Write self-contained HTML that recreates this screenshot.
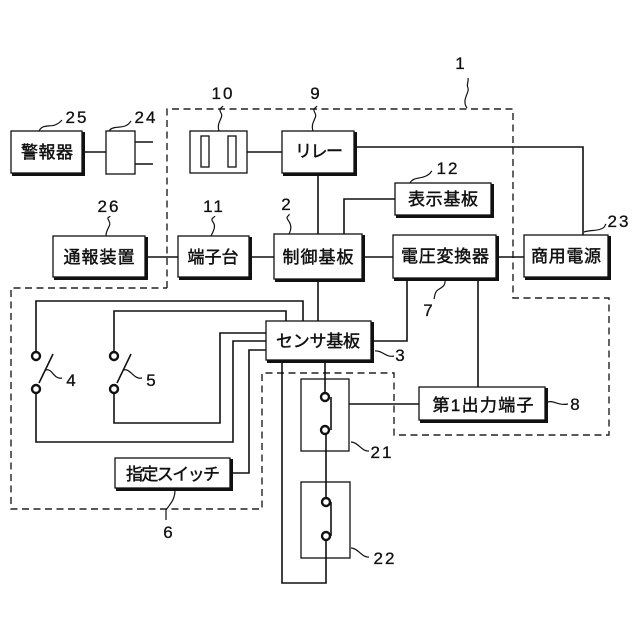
<!DOCTYPE html>
<html><head><meta charset="utf-8"><style>
html,body{margin:0;padding:0;background:#fff}
svg{display:block}
.l{fill:none;stroke:#111;stroke-width:1.6}
.d{fill:none;stroke:#222;stroke-width:1.4;stroke-dasharray:7 4.5}
.b{fill:#fff;stroke:#111;stroke-width:1.3}
.s{fill:none;stroke:#111;stroke-width:3}
.q{fill:none;stroke:#111;stroke-width:1.2}
.c{fill:#fff;stroke:#111;stroke-width:2.4}
.j{font:400 17px "Liberation Sans","Noto Sans CJK JP",sans-serif;text-anchor:middle;fill:#111;stroke:#111;stroke-width:.45}
.n{font:17px "Liberation Sans",sans-serif;text-anchor:middle;fill:#111;letter-spacing:2px;stroke:#111;stroke-width:.3}
</style></head><body>
<svg width="640" height="640" viewBox="0 0 640 640" xmlns="http://www.w3.org/2000/svg">
<rect width="640" height="640" fill="#fff"/>
<path class="d" d="M167 288V109H513V298H609V435H394V373H262V509H11V288H167"/>

<path class="l" d="M83 152H106M135 142H153M135 164H153M247 152H282M355 147H583V235M318 174V234M344 234V199H395M146 257H178M250 257H274M363 257H393M497 257H524M318 280V321M407 279V341H372M478 279V387M36 352V301H303V321M114 352V311H286V321M36 393V442H233V341H266M114 393V423H220V333H266M231 473H249V350H266M282 361V583H326V540M325 361V393M326 434V498M349 404H419"/>

<path class="l" d="M39 383L53 354M117 383L131 354"/>
<path class="l" d="M331 397V430M331 502V536"/>

<rect class="b" x="106" y="131" width="29" height="43"/>
<rect class="b" x="190" y="131" width="57" height="42"/>
<rect class="b" x="201" y="136" width="8" height="31"/>
<rect class="b" x="228" y="136" width="8" height="31"/>
<rect x="301" y="379" width="48" height="72" fill="none" stroke="#111" stroke-width="1.3"/>
<rect x="301" y="482" width="49" height="76" fill="none" stroke="#111" stroke-width="1.3"/>

<circle class="c" cx="36" cy="356" r="4"/><circle class="c" cx="36" cy="389" r="4"/>
<circle class="c" cx="114" cy="356" r="4"/><circle class="c" cx="114" cy="389" r="4"/>
<circle class="c" cx="325" cy="397" r="4"/><circle class="c" cx="325" cy="430" r="4"/>
<circle class="c" cx="326" cy="502" r="4"/><circle class="c" cx="326" cy="536" r="4"/>

<rect class="b" x="11" y="131" width="71" height="42"/><path class="s" d="M12 174.5H83.5V132"/>
<rect class="b" x="282" y="131" width="72" height="42"/><path class="s" d="M283 174.5H355.5V132"/>
<rect class="b" x="53" y="236" width="92" height="41"/><path class="s" d="M54 278.5H146.5V237"/>
<rect class="b" x="178" y="236" width="71" height="41"/><path class="s" d="M179 278.5H250.5V237"/>
<rect class="b" x="274" y="234" width="88" height="45"/><path class="s" d="M275 280.5H363.5V235"/>
<rect class="b" x="395" y="183" width="96" height="32"/><path class="s" d="M396 216.5H492.5V184"/>
<rect class="b" x="393" y="235" width="103" height="43"/><path class="s" d="M394 279.5H497.5V236"/>
<rect class="b" x="524" y="235" width="84" height="42"/><path class="s" d="M525 278.5H609.5V236"/>
<rect class="b" x="266" y="321" width="105" height="39"/><path class="s" d="M267 361.5H372.5V322"/>
<rect class="b" x="115" y="458" width="115" height="30"/><path class="s" d="M116 489.5H231.5V459"/>
<rect class="b" x="419" y="387" width="126" height="33"/><path class="s" d="M420 421.5H546.5V388"/>

<text class="j" x="47" y="158" textLength="52">警報器</text>
<text class="j" x="319" y="157" textLength="48">リレー</text>
<text class="j" x="99" y="263" textLength="71">通報装置</text>
<text class="j" x="213" y="263" textLength="51">端子台</text>
<text class="j" x="318" y="263" textLength="71">制御基板</text>
<text class="j" x="443" y="205" textLength="70">表示基板</text>
<text class="j" x="445" y="262" textLength="88">電圧変換器</text>
<text class="j" x="566" y="262" textLength="70">商用電源</text>
<text class="j" x="318" y="347" textLength="84">センサ基板</text>
<text class="j" x="173" y="480" textLength="94">指定スイッチ</text>
<text class="j" x="483" y="411" textLength="101">第1出力端子</text>

<text class="n" x="461" y="69">1</text>
<text class="n" x="223" y="99">10</text>
<text class="n" x="316" y="99">9</text>
<text class="n" x="77" y="123">25</text>
<text class="n" x="146" y="123">24</text>
<text class="n" x="109" y="212">26</text>
<text class="n" x="214" y="212">11</text>
<text class="n" x="287" y="210">2</text>
<text class="n" x="448" y="174">12</text>
<text class="n" x="619" y="227">23</text>
<text class="n" x="429" y="316">7</text>
<text class="n" x="72" y="386">4</text>
<text class="n" x="152" y="386">5</text>
<text class="n" x="401" y="361">3</text>
<text class="n" x="576" y="410">8</text>
<text class="n" x="382" y="458">21</text>
<text class="n" x="385" y="564">22</text>
<text class="n" x="169" y="538">6</text>

<path class="q" d="M39 131C42 124 50 127 55 125S60 122 62 120"/>
<path class="q" d="M109 131C112 126 120 128 125 126S129 123 131 121"/>
<path class="q" d="M219 131C216 122 224 118 221 113S222 108 223 106"/>
<path class="q" d="M313 131C310 122 318 118 315 113S316 108 317 106"/>
<path class="q" d="M467 108C461 100 470 92 468 88S469 82 468 78"/>
<path class="q" d="M106 236C106 228 112 226 109 221S110 218 110 216"/>
<path class="q" d="M211 236C214 230 216 226 213 222S214 218 215 216"/>
<path class="q" d="M289 234C292 228 291 224 288 220S290 216 289 214"/>
<path class="q" d="M410 183C413 177 420 179 426 176S430 172 432 171"/>
<path class="q" d="M584 232C590 230 596 231 601 229S604 226 606 224"/>
<path class="q" d="M445 280C446 288 438 288 436 292S435 296 434 299"/>
<path class="q" d="M46 370C52 368 54 380 62 378"/>
<path class="q" d="M124 370C130 368 134 380 142 378"/>
<path class="q" d="M375 351C382 350 386 358 394 356"/>
<path class="q" d="M548 402C554 400 558 406 568 404"/>
<path class="q" d="M351 442C358 442 362 452 369 451"/>
<path class="q" d="M351 548C358 548 362 558 369 557"/>
<path class="q" d="M175 490C175 500 170 504 166 510V520"/>
</svg>
</body></html>
